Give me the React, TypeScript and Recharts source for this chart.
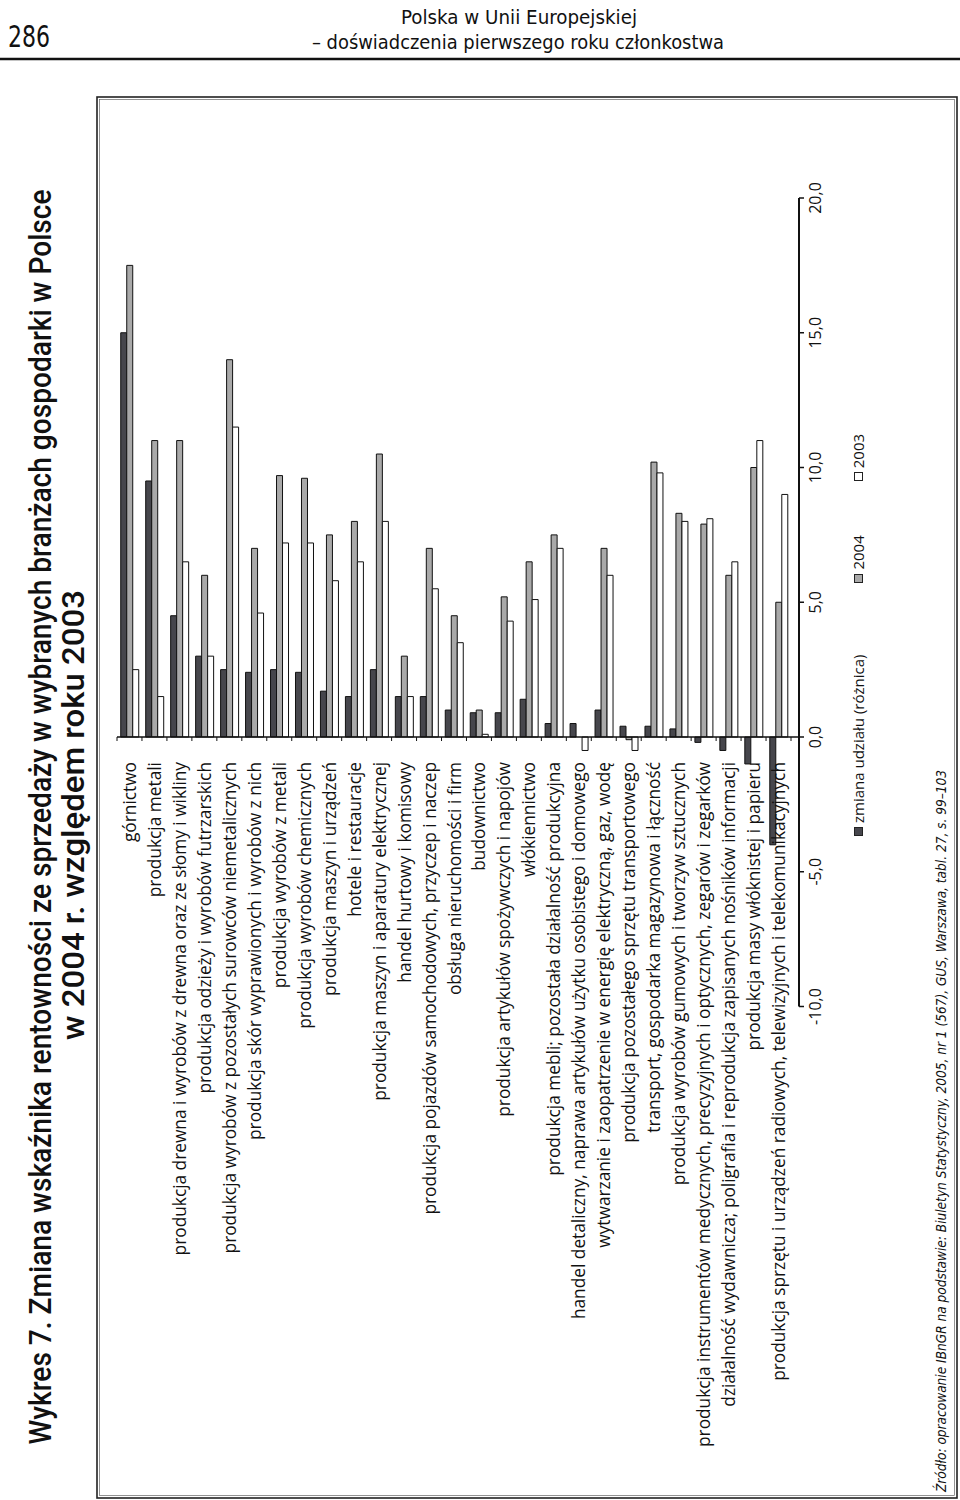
import React from 'react';
import { BarChart, Bar, XAxis, YAxis, ReferenceLine, Legend } from 'recharts';

const categories = [
  'górnictwo',
  'produkcja metali',
  'produkcja drewna i wyrobów z drewna oraz ze słomy i wikliny',
  'produkcja odzieży i wyrobów futrzarskich',
  'produkcja wyrobów z pozostałych surowców niemetalicznych',
  'produkcja skór wyprawionych i wyrobów z nich',
  'produkcja wyrobów z metali',
  'produkcja wyrobów chemicznych',
  'produkcja maszyn i urządzeń',
  'hotele i restauracje',
  'produkcja maszyn i aparatury elektrycznej',
  'handel hurtowy i komisowy',
  'produkcja pojazdów samochodowych, przyczep i naczep',
  'obsługa nieruchomości i firm',
  'budownictwo',
  'produkcja artykułów spożywczych i napojów',
  'włókiennictwo',
  'produkcja mebli; pozostała działalność produkcyjna',
  'handel detaliczny, naprawa artykułów użytku osobistego i domowego',
  'wytwarzanie i zaopatrzenie w energię elektryczną, gaz, wodę',
  'produkcja pozostałego sprzętu transportowego',
  'transport, gospodarka magazynowa i łączność',
  'produkcja wyrobów gumowych i tworzyw sztucznych',
  'produkcja instrumentów medycznych, precyzyjnych i optycznych, zegarów i zegarków',
  'działalność wydawnicza; poligrafia i reprodukcja zapisanych nośników informacji',
  'produkcja masy włóknistej i papieru',
  'produkcja sprzętu i urządzeń radiowych, telewizyjnych i telekomunikacyjnych',
];

const zmiana = [15.0, 9.5, 4.5, 3.0, 2.5, 2.4, 2.5, 2.4, 1.7, 1.5, 2.5, 1.5, 1.5, 1.0, 0.9, 0.9, 1.4, 0.5, 0.5, 1.0, 0.4, 0.4, 0.3, -0.2, -0.5, -1.0, -4.0];
const v2004 = [17.5, 11.0, 11.0, 6.0, 14.0, 7.0, 9.7, 9.6, 7.5, 8.0, 10.5, 3.0, 7.0, 4.5, 1.0, 5.2, 6.5, 7.5, 0.0, 7.0, -0.1, 10.2, 8.3, 7.9, 6.0, 10.0, 5.0];
const v2003 = [2.5, 1.5, 6.5, 3.0, 11.5, 4.6, 7.2, 7.2, 5.8, 6.5, 8.0, 1.5, 5.5, 3.5, 0.1, 4.3, 5.1, 7.0, -0.5, 6.0, -0.5, 9.8, 8.0, 8.1, 6.5, 11.0, 9.0];

const valueTicks = [-10, -5, 0, 5, 10, 15, 20];
const seriesNames = ['zmiana udziału (różnica)', '2004', '2003'];

const headerTitle = ['Polska w Unii Europejskiej', '– doświadczenia pierwszego roku członkostwa'];
const pageNumber = '286';
const chartTitle = [
  'Wykres 7. Zmiana wskaźnika rentowności ze sprzedaży w wybranych branżach gospodarki w Polsce',
  'w 2004 r. względem roku 2003',
];
const sourceNote =
  'Źródło: opracowanie IBnGR na podstawie: Biuletyn Statystyczny, 2005, nr 1 (567), GUS, Warszawa, tabl. 27, s. 99–103';

const data = categories.map((name, i) => ({
  name,
  zmiana: zmiana[i],
  v2004: v2004[i],
  v2003: v2003[i],
}));

// rotated frame geometry
const W = 1440;
const H = 960;
const DOMAIN: [number, number] = [-10, 20];
const PLOT_LEFT = 493.5;
const PLOT_RIGHT = 1302;
const PLOT_TOP = 117;
const PLOT_BOTTOM = 799;
const CAT_PAD_BOTTOM = 8;
const X_AXIS_H = 30;
const ZERO_U = PLOT_LEFT + ((0 - DOMAIN[0]) / (DOMAIN[1] - DOMAIN[0])) * (PLOT_RIGHT - PLOT_LEFT);
const BAND = (PLOT_BOTTOM - CAT_PAD_BOTTOM - PLOT_TOP) / categories.length;
const FONT = '"Open Sans", "DejaVu Sans", sans-serif';
const COND = '"DejaVu Sans Condensed", "DejaVu Sans", sans-serif';
const TITLE_FONT = 'Roboto, "DejaVu Sans", sans-serif';

const COLORS = { zmiana: '#46464c', v2004: '#a9a9a9', v2003: '#ffffff' };

const CategoryTick = (props: any) => {
  const { y, payload, index } = props;
  const isLast = index === categories.length - 1;
  return (
    <g>
      <line x1={ZERO_U - 4} x2={ZERO_U} y1={y - BAND / 2} y2={y - BAND / 2} stroke="#111" strokeWidth={1} />
      {isLast && (
        <line x1={ZERO_U - 4} x2={ZERO_U} y1={y + BAND / 2} y2={y + BAND / 2} stroke="#111" strokeWidth={1} />
      )}
      <text
        x={ZERO_U - 25}
        y={y}
        textAnchor="end"
        dominantBaseline="central"
        fontSize={17.3}
        fontFamily={FONT}
        fill="#111"
      >
        {payload.value}
      </text>
    </g>
  );
};

const fmt = (v: number) => v.toFixed(1).replace('.', ',');

const LegendContent = (props: any) => {
  const items = [...(props.payload || [])].sort(
    (a: any, b: any) => seriesNames.indexOf(a.value) - seriesNames.indexOf(b.value)
  );
  const gaps = [72, 54, 0];
  return (
    <div style={{ display: 'flex', alignItems: 'center', fontFamily: FONT, fontSize: 15, color: '#111' }}>
      {items.map((p: any, i: number) => (
        <div key={i} style={{ display: 'flex', alignItems: 'center', marginRight: gaps[i] }}>
          <span
            style={{
              display: 'inline-block',
              width: 7,
              height: 7,
              background: p.payload?.fill ?? p.color,
              border: '1px solid #222',
              marginRight: 4,
            }}
          />
          <span>{p.value}</span>
        </div>
      ))}
    </div>
  );
};

export default function App() {
  return (
    <div
      style={{
        position: 'absolute',
        left: 0,
        top: 0,
        width: 960,
        height: 1500,
        overflow: 'hidden',
        background: '#fff',
      }}
    >
      <svg width={960} height={70} style={{ position: 'absolute', left: 0, top: 0 }}>
        <text x={8} y={47} fontFamily={COND} fontSize={30} fill="#111" textLength={42} lengthAdjust="spacingAndGlyphs">
          {pageNumber}
        </text>
        <text x={519} y={24} textAnchor="middle" fontFamily={COND} fontSize={20} fill="#111" textLength={236} lengthAdjust="spacingAndGlyphs">
          {headerTitle[0]}
        </text>
        <text x={518} y={49} textAnchor="middle" fontFamily={COND} fontSize={20} fill="#111" textLength={412} lengthAdjust="spacingAndGlyphs">
          {headerTitle[1]}
        </text>
        <line x1={0} x2={960} y1={59} y2={59} stroke="#111" strokeWidth={2.5} />
      </svg>

      <div
        style={{
          position: 'absolute',
          left: 0,
          top: 1500,
          width: W,
          height: H,
          transform: 'rotate(-90deg)',
          transformOrigin: '0 0',
        }}
      >
        <svg width={W} height={H} style={{ position: 'absolute', left: 0, top: 0 }}>
          <rect x={2} y={97} width={1401} height={860} fill="none" stroke="#222" strokeWidth={1.6} />
          <rect x={4.5} y={99.5} width={1396} height={855} fill="none" stroke="#666" strokeWidth={0.7} />
          <text
            x={683}
            y={51}
            textAnchor="middle"
            fontFamily={TITLE_FONT}
            fontWeight={500}
            fontSize={31}
            fill="#111"
            textLength={1255}
            lengthAdjust="spacingAndGlyphs"
          >
            {chartTitle[0]}
          </text>
          <text
            x={685}
            y={84}
            textAnchor="middle"
            fontFamily={TITLE_FONT}
            fontWeight={500}
            fontSize={31}
            fill="#111"
            textLength={450}
            lengthAdjust="spacingAndGlyphs"
          >
            {chartTitle[1]}
          </text>
          <text
            x={8}
            y={946}
            fontFamily={COND}
            fontStyle="italic"
            fontSize={14}
            fill="#111"
            textLength={722}
            lengthAdjust="spacingAndGlyphs"
          >
            {sourceNote}
          </text>
        </svg>
        <div style={{ position: 'absolute', left: 0, top: 0 }}>
          <BarChart
            width={W}
            height={H}
            data={data}
            layout="vertical"
            margin={{ top: PLOT_TOP, right: W - PLOT_RIGHT, bottom: H - PLOT_BOTTOM - X_AXIS_H, left: 0 }}
            barCategoryGap="15%"
            barGap={0}
          >
            <XAxis
              type="number"
              domain={DOMAIN}
              ticks={valueTicks}
              tickFormatter={fmt}
              height={X_AXIS_H}
              axisLine={{ stroke: '#111', strokeWidth: 2 }}
              tickLine={{ stroke: '#111', strokeWidth: 1.5 }}
              tickSize={5}
              tickMargin={6}
              tick={{ fontSize: 16, fontFamily: FONT, fill: '#111' }}
              interval={0}
            />
            <YAxis
              type="category"
              dataKey="name"
              width={PLOT_LEFT}
              axisLine={false}
              tickLine={false}
              tick={<CategoryTick />}
              interval={0}
              padding={{ top: 0, bottom: CAT_PAD_BOTTOM }}
            />
            <ReferenceLine x={0} stroke="#111" strokeWidth={1.5} />
            <Bar dataKey="zmiana" name={seriesNames[0]} fill={COLORS.zmiana} stroke="#111" strokeWidth={1} isAnimationActive={false} />
            <Bar dataKey="v2004" name={seriesNames[1]} fill={COLORS.v2004} stroke="#111" strokeWidth={1} isAnimationActive={false} />
            <Bar dataKey="v2003" name={seriesNames[2]} fill={COLORS.v2003} stroke="#111" strokeWidth={1} isAnimationActive={false} />
            <Legend
              layout="horizontal"
              verticalAlign="middle"
              align="center"
              content={<LegendContent />}
              wrapperStyle={{ position: 'absolute', top: 848, left: 664, width: 520 }}
            />
          </BarChart>
        </div>
      </div>
    </div>
  );
}
